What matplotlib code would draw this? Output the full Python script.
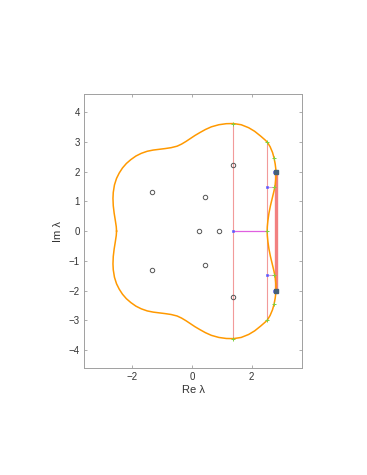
import numpy as np
import matplotlib
matplotlib.use('Agg')
import matplotlib.pyplot as plt

plt.rcParams['font.family'] = ['Liberation Sans', 'DejaVu Sans']

# upper half of the orange boundary curve (lower half is its mirror image)
curve_x = [-2.53, -2.54, -2.57, -2.61, -2.64, -2.65, -2.64, -2.60, -2.53, -2.44,
           -2.33, -2.20, -2.05, -1.88, -1.70, -1.50, -1.30, -1.10, -0.90, -0.70,
           -0.50, -0.35, -0.20, -0.05, 0.10, 0.27, 0.45, 0.65, 0.90, 1.15,
           1.39, 1.65, 1.90, 2.10, 2.30, 2.45, 2.53, 2.62, 2.70, 2.75,
           2.79, 2.82, 2.815, 2.79, 2.75, 2.69, 2.63, 2.58, 2.545, 2.525, 2.52]
curve_y = [0.00, 0.15, 0.35, 0.60, 0.85, 1.10, 1.30, 1.55, 1.77, 1.95,
           2.12, 2.27, 2.40, 2.52, 2.61, 2.68, 2.72, 2.745, 2.77, 2.80,
           2.85, 2.92, 3.01, 3.11, 3.21, 3.31, 3.41, 3.50, 3.57, 3.605,
           3.61, 3.57, 3.47, 3.35, 3.19, 3.06, 2.98, 2.83, 2.64, 2.46,
           2.25, 2.00, 1.80, 1.55, 1.35, 1.10, 0.85, 0.60, 0.35, 0.15, 0.00]

# eigenvalues (open circles)
eig_re = [-1.35, -1.35, 0.43, 0.43, 0.23, 0.92, 1.39, 1.39]
eig_im = [1.32, -1.32, 1.14, -1.14, 0.0, 0.0, 2.22, -2.22]

# vertical chords
chord_x = [1.39, 2.53]
chord_h = [3.61, 3.00]

# blue points and their green partners on the curve
blue_re = [1.39, 2.53, 2.53, 2.76, 2.76]
blue_im = [0.0, 1.49, -1.49, 2.0, -2.0]
green_re = [2.53, 2.75, 2.75, 2.53, 2.53, 2.75, 2.75, 1.39, 1.39]
green_im = [0.0, 1.49, -1.49, 3.0, -3.0, 2.46, -2.46, 3.61, -3.61]

# dark squares
sq_re = [2.82, 2.82]
sq_im = [2.0, -2.0]

band_x = 2.81
band_h = 2.0

cx = np.array(curve_x)
cy = np.array(curve_y)
full_x = np.concatenate([cx, cx[::-1][1:]])
full_y = np.concatenate([cy, -cy[::-1][1:]])

fig = plt.figure(figsize=(3.67, 4.75), dpi=100)
ax = fig.add_axes([0.229, 0.225, 0.594, 0.577])

for x, h in zip(chord_x, chord_h):
    ax.plot([x, x], [-h, h], color='#f29a9a', lw=0.8)
ax.plot([band_x, band_x], [-band_h, band_h], color='#f28080', lw=2.4, solid_capstyle='butt')

ax.plot([chord_x[0], chord_x[1]], [0, 0], color='#e060e0', lw=0.9)
for y in [1.49, -1.49]:
    ax.plot([2.53, 2.75], [y, y], color='#e89ae8', lw=0.8)

ax.plot(full_x, full_y, color='#ff9900', lw=1.1)

ax.plot(eig_re, eig_im, 'o', mfc='none', mec='#555555', ms=3.2, mew=0.7)
ax.plot(green_re, green_im, '+', color='#80d040', ms=3.5, mew=0.7)
ax.plot(blue_re, blue_im, 's', color='#5a5aff', ms=1.8, mew=0.4)
ax.plot(sq_re, sq_im, 's', color='#44607a', ms=2.6)

ax.set_xlim(-3.62, 3.69)
ax.set_ylim(-4.6, 4.6)
ax.set_xticks([-2, 0, 2])
ax.set_yticks(range(-4, 5))

for s in ax.spines.values():
    s.set_color('#a0a0a0')
    s.set_linewidth(0.7)
ax.tick_params(direction='in', length=2.5, width=0.6, color='#a0a0a0',
               labelsize=7, labelcolor='#333333', top=True, right=True, pad=3)

ax.set_xlabel('Re λ', fontsize=8, color='#333333', labelpad=2)
ax.set_ylabel('Im λ', fontsize=8, color='#333333', labelpad=4)

plt.savefig('out.png', dpi=100)
